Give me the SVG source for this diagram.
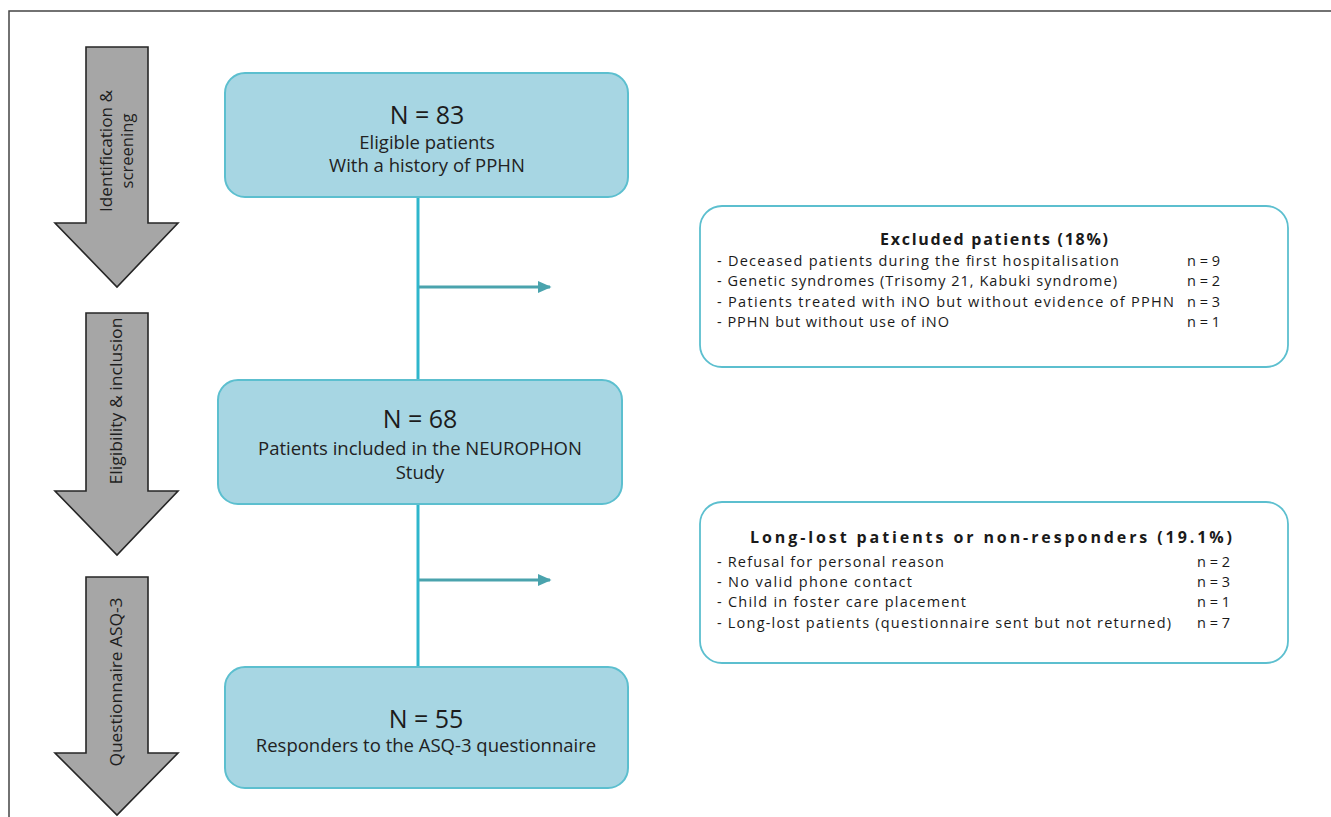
<svg xmlns="http://www.w3.org/2000/svg" width="1331" height="817" viewBox="0 0 1331 817">
<style>
.arrow{fill:#a6a6a6;stroke:#262626;stroke-width:1.6;stroke-linejoin:miter}
.alab{font-family:"Open Sans","Liberation Sans",sans-serif;font-size:15.5px;fill:#1e1e1e;text-anchor:middle}
.node{fill:#a7d6e3;stroke:#5cbfcf;stroke-width:2}
.big{font-family:"Open Sans","Liberation Sans",sans-serif;font-size:25px;fill:#1c1c1c;text-anchor:middle}
.sub{font-family:"Open Sans","Liberation Sans",sans-serif;font-size:18.5px;fill:#222;text-anchor:middle}
.side{fill:#fff;stroke:#5cbfcf;stroke-width:1.8}
.ttl{font-family:"Open Sans","Liberation Sans",sans-serif;font-size:16px;font-weight:bold;fill:#1a1a1a;text-anchor:middle}
.row{font-family:"Open Sans","Liberation Sans",sans-serif;font-size:14.5px;fill:#1a1a1a}
.vl{stroke:#2fb6cc;stroke-width:3;fill:none}
.hl{stroke:#4aa3ad;stroke-width:3;fill:none}
</style>
<defs>
<marker id="ah" markerWidth="5" markerHeight="5" refX="4" refY="2.5" orient="auto" markerUnits="strokeWidth">
<path d="M0,0.5 L4.5,2.5 L0,4.5 Z" fill="#4aa3ad"/>
</marker>
</defs>
<rect width="1331" height="817" fill="#fff"/>
<path d="M9,817 V11 H1331" fill="none" stroke="#444" stroke-width="1.5"/>

<g id="phase1">
<path class="arrow" d="M86,47 H148 V223 H178 L117,287 L55,223 H86 Z"/>
<g transform="translate(117,151) rotate(-90)">
<text class="alab" x="0" y="-5" textLength="122" lengthAdjust="spacingAndGlyphs">Identification &amp;</text>
<text class="alab" x="0" y="16" textLength="75" lengthAdjust="spacingAndGlyphs">screening</text>
</g>
</g>
<g id="phase2">
<path class="arrow" d="M86,313 H148 V491 H178 L117,555 L55,491 H86 Z"/>
<text class="alab" transform="translate(122,401) rotate(-90)" textLength="167" lengthAdjust="spacingAndGlyphs">Eligibility &amp; inclusion</text>
</g>
<g id="phase3">
<path class="arrow" d="M86,577 H148 V753 H178 L117,815 L55,753 H86 Z"/>
<text class="alab" transform="translate(122,682) rotate(-90)" textLength="169" lengthAdjust="spacingAndGlyphs">Questionnaire ASQ-3</text>
</g>

<g id="connectors">
<line class="vl" x1="418" y1="197" x2="418" y2="380"/>
<line class="hl" x1="419" y1="287" x2="550" y2="287" marker-end="url(#ah)"/>
<line class="vl" x1="418" y1="504" x2="418" y2="667"/>
<line class="hl" x1="419" y1="580" x2="550" y2="580" marker-end="url(#ah)"/>
</g>

<g id="n83">
<rect class="node" x="225" y="73" width="403" height="124" rx="20"/>
<text class="big" x="427" y="124">N = 83</text>
<text class="sub" x="427" y="149">Eligible patients</text>
<text class="sub" x="427" y="172">With a history of PPHN</text>
</g>
<g id="n68">
<rect class="node" x="218" y="380" width="404" height="124" rx="20"/>
<text class="big" x="420" y="428">N = 68</text>
<text class="sub" x="420" y="455">Patients included in the NEUROPHON</text>
<text class="sub" x="420" y="479">Study</text>
</g>
<g id="n55">
<rect class="node" x="225" y="667" width="403" height="121" rx="20"/>
<text class="big" x="426" y="728">N = 55</text>
<text class="sub" x="426" y="752">Responders to the ASQ-3 questionnaire</text>
</g>

<g id="excluded">
<rect class="side" x="700" y="206" width="588" height="161" rx="22"/>
<text class="ttl" x="994" y="245" textLength="228" lengthAdjust="spacing">Excluded patients (18%)</text>
<text class="row" x="717" y="266" textLength="402" lengthAdjust="spacing">- Deceased patients during the first hospitalisation</text>
<text class="row" x="1187" y="266">n = 9</text>
<text class="row" x="717" y="286" textLength="400" lengthAdjust="spacing">- Genetic syndromes (Trisomy 21, Kabuki syndrome)</text>
<text class="row" x="1187" y="286">n = 2</text>
<text class="row" x="717" y="307" textLength="457" lengthAdjust="spacing">- Patients treated with iNO but without evidence of PPHN</text>
<text class="row" x="1187" y="307">n = 3</text>
<text class="row" x="717" y="327" textLength="232" lengthAdjust="spacing">- PPHN but without use of iNO</text>
<text class="row" x="1187" y="327">n = 1</text>
</g>
<g id="lost">
<rect class="side" x="700" y="502" width="588" height="161" rx="22"/>
<text class="ttl" x="991" y="543" textLength="482" lengthAdjust="spacing">Long-lost patients or non-responders (19.1%)</text>
<text class="row" x="717" y="567" textLength="227" lengthAdjust="spacing">- Refusal for personal reason</text>
<text class="row" x="1197" y="567">n = 2</text>
<text class="row" x="717" y="587" textLength="195" lengthAdjust="spacing">- No valid phone contact</text>
<text class="row" x="1197" y="587">n = 3</text>
<text class="row" x="717" y="607" textLength="249" lengthAdjust="spacing">- Child in foster care placement</text>
<text class="row" x="1197" y="607">n = 1</text>
<text class="row" x="717" y="628" textLength="454" lengthAdjust="spacing">- Long-lost patients (questionnaire sent but not returned)</text>
<text class="row" x="1197" y="628">n = 7</text>
</g>
</svg>
